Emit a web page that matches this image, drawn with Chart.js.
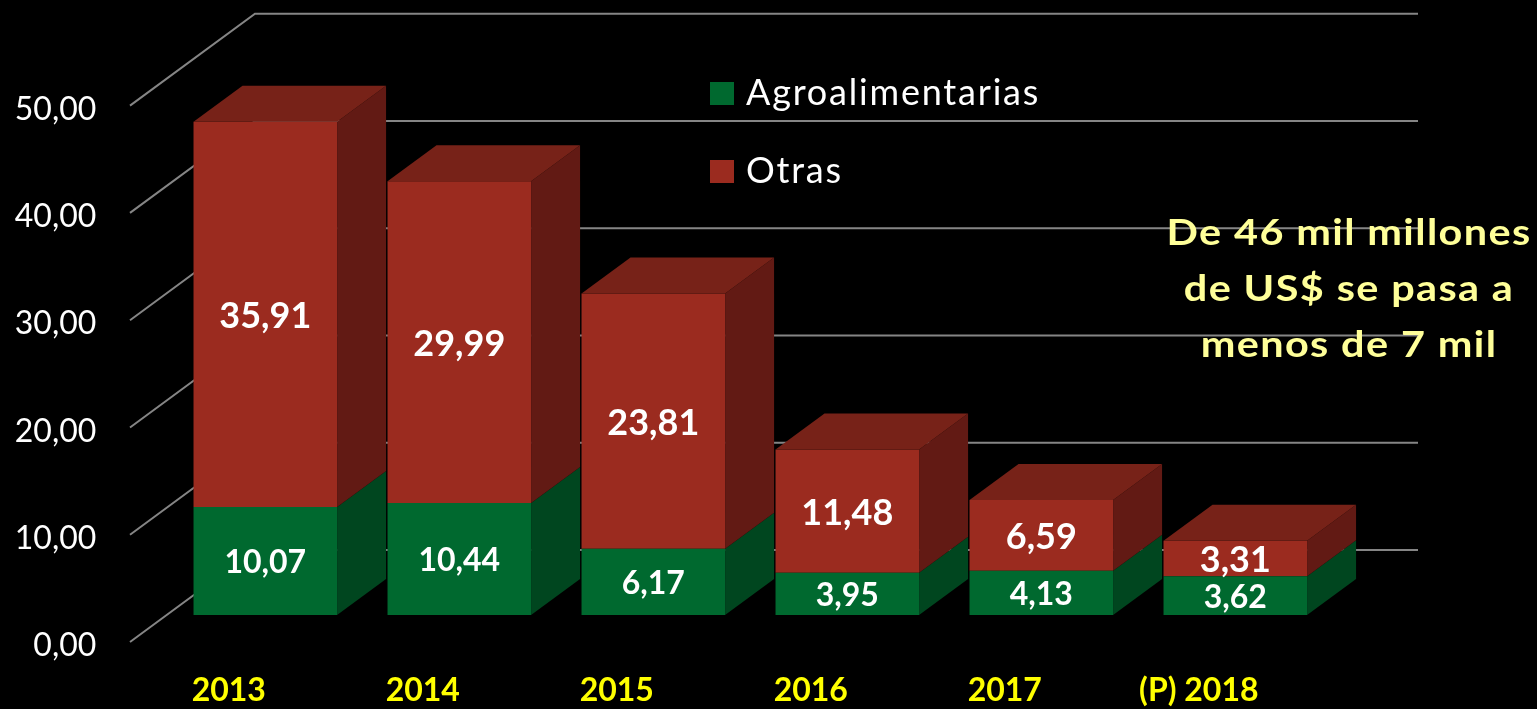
<!DOCTYPE html>
<html>
<head>
<meta charset="utf-8">
<script src="https://cdn.jsdelivr.net/npm/chart.js@4/dist/chart.umd.min.js"></script>
<style>
  html, body { margin: 0; padding: 0; background: #000; }
  canvas { display: block; }
</style>
</head>
<body>
<canvas id="chart" width="1537" height="709"></canvas>
<script>
// data
const years = ["2013", "2014", "2015", "2016", "2017", "(P) 2018"];
const agro = [10.07, 10.44, 6.17, 3.95, 4.13, 3.62];
const otras = [35.91, 29.99, 23.81, 11.48, 6.59, 3.31];
const yTicks = [0, 10, 20, 30, 40, 50];
const noteLines = ["De 46 mil millones", "de US$ se pasa a", "menos de 7 mil"];

// colours
const greenFront = "#00692f";
const greenSide = "#00461f";
const redFront = "#9b2b1f";
const redSide = "#621a14";
const redTop = "#772218";
const gridCol = "#858585";

// fake 3d depth of the bars and of the wall
const barDX = 49, barDY = -36;
const wallFrontDX = -38.3, wallFrontDY = 27;
const wallBackDX = 86.7, wallBackDY = -65;

function fmt(v) {
  return v.toFixed(2).replace(".", ",");
}

const fakeThreeD = {
  id: "fakeThreeD",
  beforeDatasetsDraw(chart) {
    const ctx = chart.ctx;
    const y = chart.scales.y;
    const area = chart.chartArea;
    ctx.save();
    ctx.strokeStyle = gridCol;
    ctx.lineWidth = 2;
    yTicks.forEach(function (v) {
      const py = y.getPixelForValue(v);
      ctx.beginPath();
      ctx.moveTo(area.left + wallFrontDX, py + wallFrontDY);
      ctx.lineTo(area.left + wallBackDX, py + wallBackDY);
      ctx.lineTo(area.right + wallBackDX - 1, py + wallBackDY);
      ctx.stroke();
    });
    ctx.restore();
  },
  afterDatasetsDraw(chart) {
    const ctx = chart.ctx;
    const sides = [greenSide, redSide];
    const last = chart.data.datasets.length - 1;
    ctx.save();
    chart.data.datasets.forEach(function (ds, i) {
      chart.getDatasetMeta(i).data.forEach(function (bar) {
        const p = bar.getProps(["x", "y", "base", "width"], true);
        const l = p.x - p.width / 2, r = p.x + p.width / 2;
        // right side
        ctx.fillStyle = sides[i];
        ctx.beginPath();
        ctx.moveTo(r, p.y);
        ctx.lineTo(r + barDX, p.y + barDY);
        ctx.lineTo(r + barDX, p.base + barDY);
        ctx.lineTo(r, p.base);
        ctx.closePath();
        ctx.fill();
        if (i === last) {
          ctx.fillStyle = redTop;
          ctx.beginPath();
          ctx.moveTo(l, p.y);
          ctx.lineTo(l + barDX, p.y + barDY);
          ctx.lineTo(r + barDX, p.y + barDY);
          ctx.lineTo(r, p.y);
          ctx.closePath();
          ctx.fill();
        }
      });
    });
    // value labels
    ctx.fillStyle = "#ffffff";
    ctx.textAlign = "center";
    ctx.textBaseline = "middle";
    chart.data.datasets.forEach(function (ds, i) {
      ctx.font = (i === 0 ? "bold 32px Lato" : "bold 36px Lato");
      chart.getDatasetMeta(i).data.forEach(function (bar, j) {
        const p = bar.getProps(["x", "y", "base"], true);
        ctx.fillText(fmt(ds.data[j]), p.x, (p.y + p.base) / 2 + 2);
      });
    });
    ctx.restore();
  },
  afterDraw(chart) {
    const ctx = chart.ctx;
    ctx.save();
    // legend
    const items = [
      { label: chart.data.datasets[0].label, color: greenFront, y: 82 },
      { label: chart.data.datasets[1].label, color: redFront, y: 160 }
    ];
    ctx.font = "36px Lato";
    ctx.letterSpacing = "1.8px";
    ctx.textAlign = "left";
    ctx.textBaseline = "alphabetic";
    items.forEach(function (it) {
      ctx.fillStyle = it.color;
      ctx.fillRect(710, it.y, 24, 23);
      ctx.fillStyle = "#ffffff";
      ctx.fillText(it.label, 746, it.y + 23);
    });
    ctx.restore();

    // note on the right, glyphs stretched a bit to get the wide look
    ctx.save();
    ctx.font = "bold 36px Lato";
    ctx.letterSpacing = "1.2px";
    ctx.fillStyle = "#ffff99";
    ctx.textAlign = "center";
    noteLines.forEach(function (t, k) {
      ctx.save();
      ctx.translate(1349, 245 + k * 56);
      ctx.scale(1.15, 1);
      ctx.fillText(t, 0, 0);
      ctx.restore();
    });
    ctx.restore();
  }
};

new Chart(document.getElementById("chart"), {
  type: "bar",
  data: {
    labels: years,
    datasets: [
      { label: "Agroalimentarias", data: agro, backgroundColor: greenFront },
      { label: "Otras", data: otras, backgroundColor: redFront }
    ]
  },
  options: {
    responsive: false,
    animation: false,
    categoryPercentage: 1,
    barPercentage: 0.74,
    layout: { padding: { top: 25, right: 204.7, bottom: 0, left: 0 } },
    plugins: {
      legend: { display: false },
      tooltip: { enabled: false }
    },
    scales: {
      x: {
        stacked: true,
        grid: { display: false, drawTicks: false },
        border: { display: false },
        ticks: {
          color: "#ffff00",
          font: { family: "Lato", size: 32, weight: "bold" },
          padding: 56,
          labelOffset: -36.5,
          maxRotation: 0
        },
        afterFit(scale) {
          scale.height = 94;
          scale.paddingLeft = 0;
          scale.paddingRight = 0;
        }
      },
      y: {
        stacked: true,
        min: 0,
        max: 55,
        grid: { display: false, drawTicks: false },
        border: { display: false },
        ticks: {
          color: "#ffffff",
          font: { family: "Lato", size: 32 },
          padding: 72,
          labelOffset: 31,
          callback: function (v) { return fmt(v); }
        },
        afterBuildTicks(scale) {
          scale.ticks = yTicks.map(function (v) { return { value: v }; });
        },
        afterFit(scale) {
          scale.width = 168.3;
          scale.paddingTop = 0;
          scale.paddingBottom = 0;
        }
      }
    }
  },
  plugins: [fakeThreeD]
});
</script>
</body>
</html>
